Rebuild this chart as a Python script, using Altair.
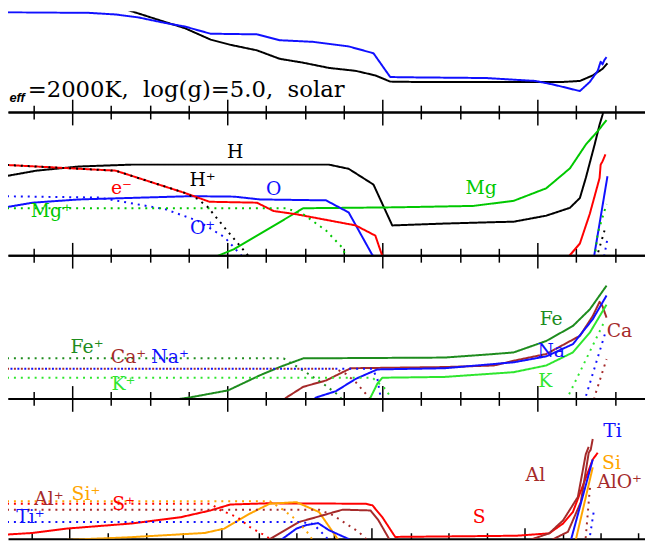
import altair as alt
import pandas as pd

# ---------------- axis ticks (x in units of the original abscissa) ----------------
x_major = [0, 1, 2, 3]
x_minor = [-0.25, 0.25, 0.5, 0.75, 1.25, 1.5, 1.75, 2.25, 2.5, 2.75, 3.25, 3.5]
bottom_major = [-0.019, 0.962, 1.930, 2.917]
bottom_minor = [-0.261, 0.229, 0.478, 0.713, 1.204, 1.446, 1.688, 2.185, 2.427,
                2.675, 3.166, 3.408, 3.650]
X_DOMAIN = [-0.414, 3.694]

# ---------------- panel 1 ----------------
p1_black_x = [0.172, 0.382, 0.599, 0.726, 0.892, 1.019, 1.191, 1.338, 1.490, 1.656,
              1.828, 1.955, 2.051, 2.210, 3.166, 3.274, 3.357, 3.420, 3.452]
p1_black_y = [3.03, 2.70, 2.37, 2.18, 1.83, 1.67, 1.50, 1.24, 1.12, 0.96,
              0.87, 0.73, 0.54, 0.53, 0.53, 0.56, 0.73, 0.93, 1.10]
p1_blue_x = [-0.465, 0.108, 0.280, 0.427, 0.599, 0.726, 0.892, 1.191, 1.338, 1.554,
             1.783, 1.943, 2.051, 2.210, 2.669, 2.987, 3.102, 3.274, 3.338, 3.389,
             3.408, 3.420, 3.433, 3.446]
p1_blue_y = [2.67, 2.65, 2.60, 2.51, 2.34, 2.23, 2.01, 1.99, 1.81, 1.76,
             1.62, 1.41, 0.68, 0.67, 0.65, 0.56, 0.45, 0.25, 0.53, 0.87,
             1.15, 1.07, 1.21, 1.29]

# ---------------- panel 2 ----------------
H_x = [-0.465, -0.231, 0.045, 0.382, 1.656, 1.783, 1.943, 2.064, 2.401, 2.720,
       2.847, 3.057, 3.210, 3.274, 3.312, 3.369, 3.401, 3.420, 3.439]
H_y = [0.64, 0.78, 0.87, 0.91, 0.91, 0.82, 0.48, -0.40, -0.36, -0.33,
       -0.32, -0.19, -0.02, 0.19, 0.62, 1.34, 1.77, 1.98, 2.26]
Hp_x = [-0.465, 0.280, 0.726, 0.809, 0.873, 0.981, 1.127, 1.14, 2.5, 3.383, 3.433]
Hp_y = [0.91, 0.78, 0.30, 0.17, 0.0, -0.44, -1.02, -1.08, -3.0, -1.08, -0.51]
el_x = [-0.465, 0.280, 0.726, 0.885, 1.191, 1.299, 1.446, 1.828, 1.955, 2.0,
        2.6, 3.20, 3.274, 3.338, 3.401, 3.408, 3.420, 3.439]
el_y = [0.91, 0.78, 0.30, 0.11, 0.09, -0.09, -0.16, -0.40, -0.62, -1.06,
        -3.0, -1.08, -0.79, -0.15, 0.62, 0.91, 0.98, 1.13]
O_x = [-0.465, -0.255, 0.045, 0.764, 1.045, 1.210, 1.637, 1.783, 1.936, 1.95,
       2.6, 3.365, 3.452]
O_y = [-0.03, 0.09, 0.16, 0.23, 0.22, 0.16, 0.14, -0.12, -1.04, -1.08,
       -3.0, -1.08, 0.66]
Op_x = [-0.465, 0.172, 0.599, 0.809, 0.981, 1.083, 1.10, 2.5, 3.43, 3.452]
Op_y = [0.23, 0.20, -0.05, -0.30, -0.65, -1.02, -1.08, -3.0, -1.08, -0.68]
Mgp_x = [-0.465, 1.382, 1.490, 1.637, 1.745, 1.764, 2.6, 3.37, 3.389, 3.446]
Mgp_y = [-0.03, -0.03, -0.16, -0.51, -0.89, -1.06, -3.0, -1.08, -0.57, 0.06]
Mg_x = [0.809, 0.936, 1.045, 1.490, 2.083, 2.586, 2.847, 3.057, 3.210, 3.312, 3.401, 3.446]
Mg_y = [-1.47, -1.06, -0.91, -0.03, -0.01, 0.02, 0.13, 0.40, 0.83, 1.34, 1.68, 1.87]

# ---------------- panel 3 ----------------
Fep_x = [-0.465, 1.363, 1.490, 1.618, 1.720, 1.828]
Fep_y = [-0.01, -0.01, -0.32, -0.65, -0.95, -1.52]
Cap_x = [-0.465, 1.701, 1.764, 1.828, 1.892, 1.95, 2.6, 3.36, 3.369, 3.446]
Cap_y = [-0.275, -0.275, -0.40, -0.61, -0.90, -1.2, -3.0, -1.2, -0.98, -0.03]
Nap_x = [-0.465, 1.936, 1.968, 1.987, 2.0, 2.6, 3.30, 3.312, 3.439]
Nap_y = [-0.275, -0.275, -0.525, -0.95, -1.2, -3.0, -1.2, -0.98, 0.65]
Kp_x = [-0.465, 1.936, 2.019, 2.051, 2.07, 2.6, 3.18, 3.197, 3.433]
Kp_y = [-0.5, -0.5, -0.78, -0.98, -1.2, -3.0, -1.2, -0.98, 0.93]
Fe_x = [0.49, 0.758, 1.006, 1.210, 1.338, 1.490, 2.401, 2.720, 2.847, 3.057, 3.229, 3.338, 3.446]
Fe_y = [-1.15, -1.0, -0.82, -0.44, -0.23, -0.01, 0.01, 0.10, 0.14, 0.43, 0.81, 1.23, 1.83]
Ca_x = [1.255, 1.382, 1.490, 1.637, 1.796, 2.401, 2.720, 2.847, 3.057, 3.274, 3.357,
        3.401, 3.420, 3.446]
Ca_y = [-1.4, -1.0, -0.73, -0.57, -0.26, -0.23, -0.19, -0.07, 0.10, 0.56, 1.06,
        1.42, 1.31, 1.02]
Na_x = [1.446, 1.573, 1.701, 1.828, 1.968, 2.401, 2.847, 3.057, 3.229, 3.357, 3.446]
Na_y = [-1.4, -1.0, -0.84, -0.53, -0.29, -0.26, -0.11, 0.04, 0.35, 0.98, 1.58]
K_x = [1.892, 1.924, 1.968, 2.0, 2.401, 2.847, 3.057, 3.229, 3.338, 3.446]
K_y = [-1.52, -1.0, -0.65, -0.5, -0.48, -0.36, -0.19, 0.14, 0.64, 1.35]

# ---------------- panel 4 ----------------
Sip_x = [-0.465, 1.274, 1.363, 1.446, 1.522, 1.554, 1.6]
Sip_y = [-0.025, -0.025, -0.25, -0.5, -0.84, -1.03, -1.3]
Sp_x = [-0.465, 0.892, 0.955, 1.064, 1.146, 1.236, 1.299, 1.35]
Sp_y = [-0.09, -0.09, -0.25, -0.43, -0.68, -0.88, -1.03, -1.3]
Alp_x = [-0.465, 1.592, 1.682, 1.764, 1.847, 1.892, 1.95]
Alp_y = [-0.24, -0.24, -0.38, -0.59, -0.80, -0.97, -1.3]
Tip_x = [-0.465, 1.465, 1.554, 1.637, 1.656, 1.7, 2.5, 3.33, 3.338, 3.363]
Tip_y = [-0.55, -0.55, -0.6, -0.93, -1.03, -1.3, -3.0, -1.2, -0.93, -0.3]
AlOp_x = [3.29, 3.312, 3.338, 3.344]
AlOp_y = [-1.3, -0.93, 0.275, 0.4]
S_x = [-0.465, -0.255, -0.038, 0.382, 0.701, 0.892, 1.019, 1.255, 1.892, 1.936, 2.0,
       2.083, 2.866, 3.076, 3.166, 3.229, 3.306, 3.357, 3.389]
S_y = [-0.88, -0.83, -0.72, -0.59, -0.43, -0.26, -0.11, -0.08, -0.09, -0.13, -0.43,
       -0.93, -0.90, -0.84, -0.59, -0.30, 0.5, 1.03, 1.2]
Al_x = [1.255, 1.465, 1.592, 1.745, 1.924, 1.975, 2.051, 2.1, 2.6, 2.94, 2.955, 3.076,
        3.166, 3.261, 3.312, 3.331]
Al_y = [-1.03, -0.55, -0.41, -0.24, -0.26, -0.51, -1.03, -1.3, -3.0, -1.3, -1.0, -0.84,
        -0.51, 0.08, 1.16, 1.35]
Al2_x = [3.05, 3.070, 3.197, 3.280, 3.331, 3.344, 3.357]
Al2_y = [-1.3, -1.05, -0.8, -0.05, 1.2, 1.28, 1.55]
Ti_x = [1.338, 1.446, 1.510, 1.586, 1.656, 1.809, 1.85, 2.5, 3.2, 3.217, 3.357]
Ti_y = [-1.03, -0.72, -0.63, -0.58, -0.76, -1.03, -1.3, -3.0, -1.3, -1.0, 1.03]
Si_x = [-0.21, -0.064, 0.363, 0.854, 0.981, 1.146, 1.274, 1.446, 1.592, 1.720, 1.76,
        2.5, 3.23, 3.248, 3.357]
Si_y = [-1.43, -1.01, -0.94, -0.83, -0.72, -0.34, -0.09, -0.05, -0.30, -1.03, -1.3,
        -3.0, -1.3, -1.0, 0.83]

COLORS = {"black": "#000000", "blue": "#1010ff", "red": "#ff0000", "green": "#00c800",
          "dkgreen": "#1e8c1e", "ltgreen": "#2ee62e", "brown": "#a52a2a", "orange": "#ffa500"}

W = 645


def x_axis(orient, H, values, majors, major_len, minor_len):
    test = "indexof([%s], datum.value) >= 0" % ",".join(repr(v) for v in majors)
    return alt.Axis(orient=orient, offset=-H, values=values, labels=False, title=None,
                    domain=True, domainColor="black", domainWidth=2,
                    ticks=True, tickColor="black", tickWidth=1.5,
                    tickSize={"condition": {"test": test, "value": major_len},
                              "value": minor_len},
                    grid=False)


def make_panel(series, H, ydom, yticks, labels=None, top=True, bottom_vals=None,
               bottom_maj=None, bmaj=13, bmin=7, extra=None):
    rows, offrows = [], []
    for name, col, dash, xs, ys in series:
        for i, (a, b) in enumerate(zip(xs, ys)):
            r = dict(s=name, c=COLORS[col], d=dash, i=i, x=a, y=b)
            (offrows if dash == "dotted_off" else rows).append(r)
    xsc = alt.Scale(domain=X_DOMAIN, nice=False, zero=False)
    ysc = alt.Scale(domain=ydom, nice=False, zero=False)
    std_vals = x_major + x_minor
    top_axis = x_axis("bottom", H, std_vals, x_major, 13, 7) if top else None
    if bottom_vals is None:
        bot_axis = x_axis("top", H, std_vals, x_major, bmaj, bmin)
    else:
        bot_axis = x_axis("top", H, bottom_vals, bottom_maj, bmaj, bmin)
    right_axis = alt.Axis(orient="left", offset=-W, values=yticks, labels=False, title=None,
                          domain=False, ticks=True, tickSize=7, tickWidth=1.5,
                          tickColor="black", grid=False)
    layers = []
    lines = alt.Chart(pd.DataFrame(rows)).mark_line(
        clip=True, strokeWidth=2, strokeJoin="round").encode(
        x=alt.X("x:Q", scale=xsc, axis=top_axis),
        y=alt.Y("y:Q", scale=ysc, axis=right_axis),
        color=alt.Color("c:N", scale=None),
        strokeDash=alt.StrokeDash("d:N", scale=alt.Scale(domain=["solid", "dotted"],
                                                         range=[[1, 0], [2, 5]]),
                                  legend=None),
        detail="s:N",
        order="i:Q")
    layers.append(lines)
    if offrows:
        off = alt.Chart(pd.DataFrame(offrows)).mark_line(
            clip=True, strokeWidth=2, strokeDash=[2, 5], strokeDashOffset=3.5).encode(
            x=alt.X("x:Q", scale=xsc, axis=None),
            y=alt.Y("y:Q", scale=ysc, axis=None),
            color=alt.Color("c:N", scale=None),
            detail="s:N", order="i:Q")
        layers.append(off)
    lab_rows = [dict(t=t, c=COLORS[c], x=a, y=b) for t, c, a, b in (labels or [])]
    lab = alt.Chart(pd.DataFrame(lab_rows)).mark_text(
        font="DejaVu Serif", fontSize=19, baseline="middle", align="center", clip=True).encode(
        x=alt.X("x:Q", scale=xsc, axis=bot_axis),
        y=alt.Y("y:Q", scale=ysc, axis=None),
        text="t:N",
        color=alt.Color("c:N", scale=None))
    layers.append(lab)
    for e in (extra or []):
        layers.append(e(xsc, ysc))
    return alt.layer(*layers).resolve_axis(x="independent").properties(width=W, height=H)


# ---- panel 1 title text
title_main = "=2000K,\u00a0 log(g)=5.0,\u00a0 solar"
title_sub = "eff"


def title_layer_main(xsc, ysc):
    return alt.Chart(pd.DataFrame([dict(x=-0.287, y=0.07, t=title_main)])).mark_text(
        font="DejaVu Serif", fontSize=23, align="left", baseline="alphabetic",
        color="black", clip=True).encode(
        x=alt.X("x:Q", scale=xsc, axis=None), y=alt.Y("y:Q", scale=ysc, axis=None), text="t:N")


def title_layer_sub(xsc, ysc):
    return alt.Chart(pd.DataFrame([dict(x=-0.405, y=-0.10, t=title_sub)])).mark_text(
        font="Liberation Sans", fontSize=13, fontStyle="italic", fontWeight="bold",
        align="left", baseline="alphabetic", color="black", clip=True).encode(
        x=alt.X("x:Q", scale=xsc, axis=None), y=alt.Y("y:Q", scale=ysc, axis=None), text="t:N")


p1 = make_panel(
    [("p1_black", "black", "solid", p1_black_x, p1_black_y),
     ("p1_blue", "blue", "solid", p1_blue_x, p1_blue_y)],
    102, [-0.394, 2.697], [0, 1, 2], labels=[], top=False,
    extra=[title_layer_main, title_layer_sub])

p2 = make_panel(
    [("H", "black", "solid", H_x, H_y),
     ("Mg", "green", "solid", Mg_x, Mg_y),
     ("O", "blue", "solid", O_x, O_y),
     ("e", "red", "solid", el_x, el_y),
     ("Op", "blue", "dotted", Op_x, Op_y),
     ("Mgp", "green", "dotted", Mgp_x, Mgp_y),
     ("Hp", "black", "dotted", Hp_x, Hp_y)],
    145, [-1.043, 2.043], [0, 1],
    labels=[("H", "black", 1.051, 1.18), ("H⁺", "black", 0.841, 0.57),
            ("e⁻", "red", 0.318, 0.40), ("O", "blue", 1.299, 0.38),
            ("O⁺", "blue", 0.841, -0.45), ("Mg⁺", "green", -0.134, -0.09),
            ("Mg", "green", 2.637, 0.40)])

p3 = make_panel(
    [("Fe", "dkgreen", "solid", Fe_x, Fe_y),
     ("Ca", "brown", "solid", Ca_x, Ca_y),
     ("Na", "blue", "solid", Na_x, Na_y),
     ("K", "ltgreen", "solid", K_x, K_y),
     ("Fep", "dkgreen", "dotted", Fep_x, Fep_y),
     ("Cap", "brown", "dotted", Cap_x, Cap_y),
     ("Kp", "ltgreen", "dotted", Kp_x, Kp_y),
     ("Nap", "blue", "dotted_off", Nap_x, Nap_y)],
    145, [-1.025, 2.6], [0, 1, 2],
    labels=[("Fe⁺", "dkgreen", 0.096, 0.275), ("Ca⁺", "brown", 0.363, 0.025),
            ("Na⁺", "blue", 0.631, 0.025), ("K⁺", "ltgreen", 0.331, -0.65),
            ("Fe", "dkgreen", 3.089, 0.975), ("Na", "blue", 3.089, 0.175),
            ("K", "ltgreen", 3.051, -0.575), ("Ca", "brown", 3.529, 0.675)])

p4 = make_panel(
    [("S", "red", "solid", S_x, S_y),
     ("Si", "orange", "solid", Si_x, Si_y),
     ("Al", "brown", "solid", Al_x, Al_y),
     ("Al2", "brown", "solid", Al2_x, Al2_y),
     ("Ti", "blue", "solid", Ti_x, Ti_y),
     ("Sip", "orange", "dotted", Sip_x, Sip_y),
     ("Sp", "red", "dotted", Sp_x, Sp_y),
     ("Alp", "brown", "dotted", Alp_x, Alp_y),
     ("Tip", "blue", "dotted", Tip_x, Tip_y),
     ("AlOp", "brown", "dotted", AlOp_x, AlOp_y)],
    142, [-0.975, 2.575], [0, 1, 2],
    labels=[("Al⁺", "brown", -0.15, 0.02), ("Si⁺", "orange", 0.089, 0.15),
            ("Ti⁺", "blue", -0.27, -0.42), ("S⁺", "red", 0.331, -0.1),
            ("S", "red", 2.624, -0.425), ("Al", "brown", 2.987, 0.625),
            ("Ti", "blue", 3.484, 1.75), ("Si", "orange", 3.478, 0.95),
            ("AlO⁺", "brown", 3.53, 0.45)],
    bottom_vals=bottom_major + bottom_minor, bottom_maj=bottom_major, bmaj=11, bmin=6)

chart = alt.vconcat(p1, p2, p3, p4, spacing=0, bounds="flush").properties(
    padding={"left": 0, "top": 0, "right": 0, "bottom": 0},
    background="white").configure_view(stroke=None)

chart.save("out.html", embed_options={"renderer": "svg", "actions": False})
